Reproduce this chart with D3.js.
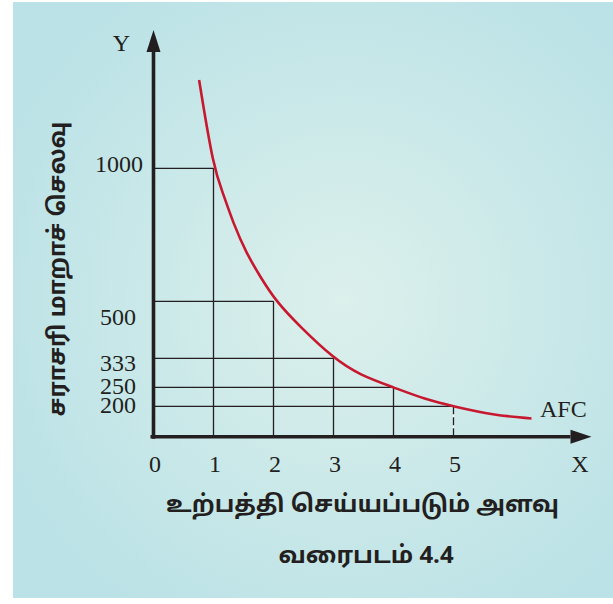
<!DOCTYPE html>
<html><head><meta charset="utf-8">
<script src="https://cdn.jsdelivr.net/npm/d3@7"></script>
<style>
html,body{margin:0;padding:0;background:#fff;}
svg{display:block;}
</style></head>
<body>
<script>
// ---- data ----
const xTicks = [0, 1, 2, 3, 4, 5];
const yTicks = [200, 250, 333, 500, 1000];
const curveX = [0.76, 1, 1.16, 1.33, 1.55, 1.78, 2.04, 2.44, 3, 3.44, 4, 4.55, 5, 5.66, 6.3];
const curveY = [1332, 1000, 906, 793, 680, 592, 500, 426, 333, 285, 250, 217, 200, 171, 160];
const guideX = [1, 2, 3, 4, 5];
const guideY = [1000, 500, 333, 250, 200];
const yTitle = "சராசரி மாறாச் செலவு";
const xTitle = "உற்பத்தி செய்யப்படும் அளவு";
const caption = "வரைபடம் 4.4";
const curveName = "AFC";

const W = 613, H = 604;
const svg = d3.select("body").append("svg").attr("width", W).attr("height", H);

const defs = svg.append("defs");
const grad = defs.append("radialGradient").attr("id", "bg")
  .attr("cx", "0.55").attr("cy", "0.5").attr("r", "0.62");
grad.append("stop").attr("offset", "0").attr("stop-color", "#dcf0ec");
grad.append("stop").attr("offset", "1").attr("stop-color", "#bbe2e6");

svg.append("rect").attr("x", 13).attr("y", 2).attr("width", 600).attr("height", 596)
  .attr("fill", "url(#bg)");

// scales (schematic, piecewise y)
const x = d3.scaleLinear().domain([0, 7.3]).range([153.5, 591.5]);
const y = d3.scaleLinear()
  .domain([100, 200, 250, 333, 500, 1000])
  .range([436.7, 406.3, 387.3, 358.3, 301.3, 168.3]);

const ink = "#231f20";
const x0 = x(0), yAxisPos = y(100);

// guide lines
const g = svg.append("g");
guideY.forEach((v, i) => {
  g.append("line").attr("x1", x0).attr("x2", x(guideX[i])).attr("y1", y(v)).attr("y2", y(v))
    .attr("stroke", ink).attr("stroke-width", 1.3);
});
guideX.forEach((v, i) => {
  const ln = g.append("line").attr("x1", x(v)).attr("x2", x(v)).attr("y1", y(guideY[i])).attr("y2", yAxisPos)
    .attr("stroke", ink).attr("stroke-width", 1.3);
  if (i === guideX.length - 1) {
    ln.attr("stroke", "#ffffff");
    g.append("line").attr("x1", x(v)).attr("x2", x(v)).attr("y1", y(guideY[i])).attr("y2", yAxisPos)
      .attr("stroke", ink).attr("stroke-width", 1.3).attr("stroke-dasharray", "8,3");
  }
});

// curve
const pts = curveX.map((v, i) => [v, curveY[i]]);
svg.append("path")
  .attr("d", d3.line().x(d => x(d[0])).y(d => y(d[1])).curve(d3.curveBasis)(pts))
  .attr("fill", "none").attr("stroke", "#c8182f").attr("stroke-width", 2.6);

// axes
svg.append("line").attr("x1", x0).attr("x2", x0).attr("y1", y(1480)).attr("y2", yAxisPos + 2)
  .attr("stroke", ink).attr("stroke-width", 3.6);
svg.append("line").attr("x1", x0 - 3).attr("x2", x(6.95)).attr("y1", yAxisPos).attr("y2", yAxisPos)
  .attr("stroke", ink).attr("stroke-width", 3.6);
// arrowheads
const tipY = y(1520);
svg.append("path").attr("d", `M${x0},${tipY} L${x0 - 7},${tipY + 22} L${x0 + 7},${tipY + 22} Z`).attr("fill", ink);
const tipX = x(7.3);
svg.append("path").attr("d", `M${tipX},${yAxisPos} L${tipX - 21},${yAxisPos - 7} L${tipX - 21},${yAxisPos + 7} Z`).attr("fill", ink);

// tick labels
const serif = "'Liberation Serif','DejaVu Serif',serif";
const yLabelShift = {1000: -4, 500: 16, 333: 5, 250: -1, 200: -1};
svg.append("g").selectAll("text").data(yTicks).join("text")
  .attr("x", d => d === 1000 ? 143 : 136)
  .attr("y", d => y(d) + yLabelShift[d])
  .attr("text-anchor", "end").attr("dominant-baseline", "central")
  .attr("font-family", serif).attr("font-size", 24).attr("fill", ink)
  .text(d => d);
svg.append("g").selectAll("text").data(xTicks).join("text")
  .attr("x", d => x(d) + 1.5).attr("y", 464)
  .attr("text-anchor", "middle").attr("dominant-baseline", "central")
  .attr("font-family", serif).attr("font-size", 24).attr("fill", ink)
  .text(d => d);

svg.append("text").attr("x", 121.5).attr("y", 43).attr("text-anchor", "middle").attr("dominant-baseline", "central")
  .attr("font-family", serif).attr("font-size", 24).attr("fill", ink).text("Y");
svg.append("text").attr("x", 580).attr("y", 464).attr("text-anchor", "middle").attr("dominant-baseline", "central")
  .attr("font-family", serif).attr("font-size", 24).attr("fill", ink).text("X");
svg.append("text").attr("x", 540).attr("y", 409).attr("text-anchor", "start").attr("dominant-baseline", "central")
  .attr("font-family", serif).attr("font-size", 24).attr("fill", ink).text(curveName);

// titles, sized to the reference's text extents
const sans = "'Noto Sans Tamil','Noto Sans','DejaVu Sans',sans-serif";
function fitText(txt, targetW, cx, cy, rotate) {
  const t = svg.append("text")
    .attr("text-anchor", "middle").attr("dominant-baseline", "central")
    .attr("font-family", sans).attr("font-weight", "bold").attr("font-size", 20).attr("fill", ink)
    .text(txt);
  const w = t.node().getBBox().width;
  t.attr("font-size", 20 * targetW / w);
  t.attr("transform", `translate(${cx},${cy})` + (rotate ? " rotate(-90)" : ""));
  return t;
}
fitText(yTitle, 295, 59, 269, true);
fitText(xTitle, 393, 362.5, 506, false);
fitText(caption, 176, 366, 557, false);
</script>
</body></html>
